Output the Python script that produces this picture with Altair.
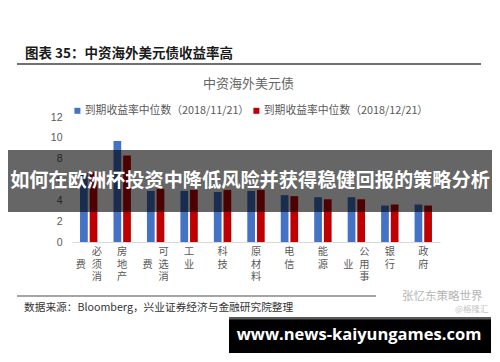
import altair as alt
import pandas as pd

# ---------------- data ----------------
categories = ["必须消费", "房地产", "可选消费", "工业", "科技", "原材料",
              "电信", "能源", "公用事业", "银行", "政府"]
series_names = ["到期收益率中位数（2018/11/21）", "到期收益率中位数（2018/12/21）"]
yield_nov = [6.6, 9.7, 4.9, 4.9, 4.8, 4.9, 4.5, 4.3, 4.3, 3.5, 3.6]
yield_dec = [6.7, 8.3, 5.1, 5.0, 5.0, 5.0, 4.4, 4.1, 4.1, 3.6, 3.5]
y_ticks = [0, 2, 4, 6, 8, 10, 12]
series_colors = ["#4472C4", "#C00000"]

fig_title = "图表 35：中资海外美元债收益率高"
chart_title = "中资海外美元债"
source_text = "数据来源：Bloomberg，兴业证券经济与金融研究院整理"
banner_text = "如何在欧洲杯投资中降低风险并获得稳健回报的策略分析"
url_text = "www.news-kaiyungames.com"
wm1 = "张忆东策略世界"
wm2 = "@格隆汇"

FONT = "Noto Sans CJK SC"
W, H = 368, 125

rows = []
for c, a, b in zip(categories, yield_nov, yield_dec):
    rows.append({"cat": c, "series": series_names[0], "value": a})
    rows.append({"cat": c, "series": series_names[1], "value": b})
df = pd.DataFrame(rows)

# label pieces (vertical stacked CJK text, wrap after 3 characters)
lab = []
for c in categories:
    right = c[:3]
    left = c[3:]
    lab.append({"cat": c,
                "single": "\n".join(right) if not left else "",
                "right": "\n".join(right) if left else "",
                "left": "\n".join(left)})
lab_df = pd.DataFrame(lab)

one = pd.DataFrame({"k": [0]})

xscale = alt.Scale(domain=categories, paddingInner=0.48, paddingOuter=0.24)

bars = alt.Chart(df).mark_bar().encode(
    x=alt.X("cat:N", scale=xscale, sort=categories,
            axis=alt.Axis(labels=False, ticks=False, title=None,
                          domainColor="#d9d9d9", domainWidth=1)),
    xOffset=alt.XOffset("series:N", sort=series_names,
                        scale=alt.Scale(paddingInner=0.2)),
    y=alt.Y("value:Q", scale=alt.Scale(domain=[0, 12], nice=False),
            axis=alt.Axis(values=y_ticks, grid=False, ticks=False, domain=False,
                          title=None, labelPadding=10, labelFontSize=10.5,
                          labelColor="#595959", labelFont="Liberation Sans")),
    color=alt.Color("series:N", sort=series_names,
                    scale=alt.Scale(domain=series_names, range=series_colors),
                    legend=alt.Legend(orient="none", legendX=0, legendY=-12,
                                      direction="horizontal", title=None,
                                      symbolType="square", symbolSize=36,
                                      labelFontSize=10.8, labelColor="#595959",
                                      labelFont=FONT, labelLimit=400,
                                      columnPadding=1, symbolOffset=0,
                                      labelOffset=2)),
)

def xlab(field, dx, dy):
    return alt.Chart(lab_df).mark_text(
        baseline="top", align="center", fontSize=10.2, font=FONT,
        color="#595959", lineBreak="\n", lineHeight=12.5, dx=dx, dy=dy
    ).encode(
        x=alt.X("cat:N", scale=xscale, sort=categories),
        y=alt.value(H + 5),
        text=alt.Text(f"{field}:N"),
    )

lab_single = xlab("single", 0, 0)
lab_right = xlab("right", 8, 0)
lab_left = xlab("left", -8, 12.5)

def txt(text, x, y, size, color, align="left", weight="normal", font=FONT):
    return alt.Chart(one).mark_text(
        text=text, fontSize=size, color=color, align=align,
        baseline="middle", fontWeight=weight, font=font
    ).encode(x=alt.value(x), y=alt.value(y))

def rect(x, x2, y, y2, color, opacity=1.0):
    return alt.Chart(one).mark_rect(color=color, opacity=opacity).encode(
        x=alt.value(x), x2=alt.value(x2), y=alt.value(y), y2=alt.value(y2))

def rule(x, x2, y, color, width):
    return alt.Chart(one).mark_rule(color=color, strokeWidth=width).encode(
        x=alt.value(x), x2=alt.value(x2), y=alt.value(y))

title_t = txt(fig_title, -47, -63.5, 13.5, "#1a1a1a", weight="bold")
title_rule = rule(-55, 409, -53, "#404040", 1.5)
ctitle = txt(chart_title, 176.5, -33.5, 13, "#666666", align="center")

banner = rect(-80, 440, 33, 95, "#000000", 0.6)
banner_t = txt(banner_text, 178, 64, 19.2, "#ffffff", align="center", weight="bold")

bottom_rule = rule(-55, 304, 179, "#a6a6a6", 2)
src = txt(source_text, -48, 190.5, 10.7, "#333333")
w1 = txt(wm1, 330, 179.5, 11.5, "#b5b5b5")
w2 = txt(wm2, 383, 192, 8.5, "#c4c4c4")

box = rect(157, 419, 200, 236, "#000000")
box_top = rect(157, 419, 200, 202.5, "#5a5a5a")
url = txt(url_text, 287, 218, 16.5, "#ffffff", align="center", weight="bold",
          font="Open Sans")

chart = alt.layer(
    bars, lab_single, lab_right, lab_left,
    title_t, title_rule, ctitle,
    banner, banner_t,
    bottom_rule, src, w1, w2,
    box, box_top, url,
).properties(
    width=W, height=H,
    padding={"left": 64, "top": 109, "right": 52, "bottom": 112},
    autosize=alt.AutoSizeParams(type="none"),
    background="#ffffff",
).configure_view(stroke=None)

chart.save("out.html", embed_options={"renderer": "svg", "actions": False})
